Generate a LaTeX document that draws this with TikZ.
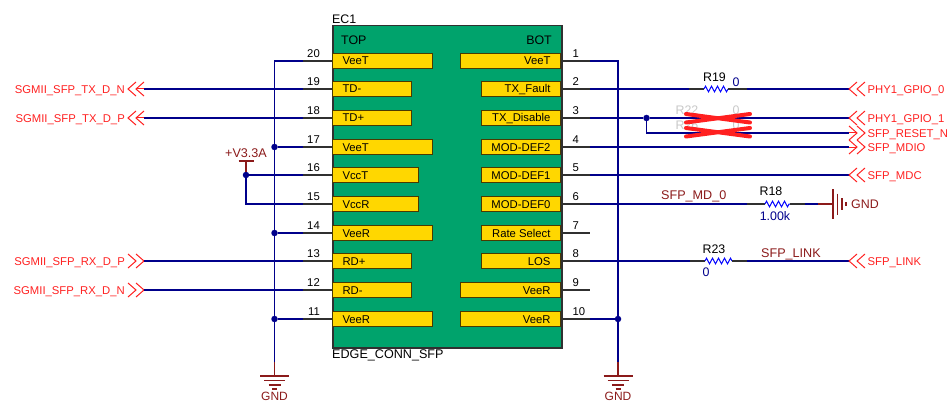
\documentclass[tikz,border=0pt]{standalone}
\usepackage{fontspec}
\setmainfont{Liberation Sans}
\usetikzlibrary{decorations.pathmorphing}
\definecolor{boardgreen}{HTML}{00A36C}
\definecolor{padyellow}{HTML}{FFD700}
\definecolor{padedge}{HTML}{4A3A00}
\definecolor{wireblue}{HTML}{00008B}
\definecolor{pwrred}{HTML}{8B1A1A}
\definecolor{labelred}{HTML}{FF2020}
\definecolor{stubgrey}{HTML}{303030}
\definecolor{ghost}{HTML}{C8C8C8}
\newcommand{\fs}[1]{\fontsize{#1}{#1}\selectfont}
\tikzset{
  x=1pt,y=-1pt,
  wire/.style={wireblue,line width=1.4pt},
  stub/.style={stubgrey,line width=1.3pt},
  pwr/.style={pwrred,line width=1.2pt},
  chev/.style={labelred,line width=1pt},
  resz/.style={blue,line width=1pt,decorate,decoration={zigzag,segment length=6pt,amplitude=2.8pt}},
  dot/.style={circle,fill=wireblue,inner sep=0pt,minimum size=6.5pt},
  txt/.style={inner sep=0pt,font=\fs{11.3}},
  big/.style={inner sep=0pt,font=\fs{12.4}},
  netl/.style={inner sep=0pt,font=\fs{11.3},text=labelred,text height=8.1pt,text depth=0pt},
  padL/.style={draw=padedge,fill=padyellow,line width=1pt,anchor=west,minimum height=14.5pt,inner ysep=0pt,inner xsep=0pt,align=flush left,font=\fs{11.3},text height=9pt,text depth=1pt},
  padR/.style={draw=padedge,fill=padyellow,line width=1pt,anchor=east,minimum height=14.5pt,inner ysep=0pt,inner xsep=0pt,align=flush right,font=\fs{11.3},text height=9pt,text depth=1pt},
  chevL/.pic={\draw[chev] (8,-7)--(0,0)--(8,7) (16,-7)--(8,0)--(16,7);},
  chevR/.pic={\draw[chev] (-16,-7)--(-8,0)--(-16,7) (-8,-7)--(0,0)--(-8,7);},
}
\begin{document}
\begin{tikzpicture}
\useasboundingbox (0,0) rectangle (950,401);
% board
\node[draw=stubgrey,fill=boardgreen,line width=1.5pt,inner sep=0pt,minimum width=229pt,minimum height=322pt,anchor=north west] (board) at (332,25) {};
\node[big,anchor=south west] (ec) at (332,24) {EC1};
\node[big,font=\fs{12.6},anchor=north west] (edge) at (332,349) {EDGE\_CONN\_SFP};
\node[big,anchor=west] (top) at (341,40) {TOP};
\node[big,anchor=east] (bot) at (552,40) {BOT};
% left pins: number/y/width/name
\foreach \n/\y/\w/\t in {20/61/100/VeeT,19/89/79/TD-,18/118/79/TD+,17/147/100/VeeT,16/175/86/VccT,15/204/86/VccR,14/233/100/VeeR,13/261/79/RD+,12/290/79/RD-,11/319/100/VeeR}{
  \node[padL,text width=\w pt] (p\n) at (332,\y) {\hspace*{10pt}\t};
  \coordinate (s\n) at (303,\y);
  \draw[stub] (p\n.west) -- (s\n);
  \node[txt,anchor=east] (num\n) at (320,\y-7) {\n};
}
% right pins
\foreach \n/\y/\w/\t in {1/61/100/VeeT,2/89/79/TX\_Fault,3/118/79/TX\_Disable,4/147/79/MOD-DEF2,5/175/79/MOD-DEF1,6/204/79/MOD-DEF0,7/233/79/Rate Select,8/261/79/LOS,9/290/100/VeeR,10/319/100/VeeR}{
  \node[padR,text width=\w pt] (p\n) at (561,\y) {\mbox{\t\hspace{10pt}}};
  \coordinate (s\n) at (590,\y);
  \draw[stub] (p\n.east) -- (s\n);
  \node[txt,anchor=west] (num\n) at (572.5,\y-7) {\n};
}
% left buses
\coordinate (busLg) at (274.5,362);
\coordinate (gndL) at (274.5,376);
\node[dot] (j17) at (274.5,147) {};
\node[dot] (j14) at (274.5,233) {};
\node[dot] (j11) at (274.5,319) {};
\draw[wire] (s20) -| (busLg);
\draw[wire] (s17) -- (j17);
\draw[wire] (s14) -- (j14);
\draw[wire] (s11) -- (j11);
\draw[pwr] (busLg) -- (gndL);
\draw[pwr] (260,376)--(289,376) (264,380.5)--(285,380.5) (268.5,385)--(280.5,385) (272,389)--(277,389);
\node[txt,text=pwrred,font=\fs{12}] (gl) at (274.5,396) {GND};
% right bus
\coordinate (busRg) at (618,362);
\coordinate (gndR) at (618,376);
\node[dot] (j10) at (618,319) {};
\draw[wire] (s1) -| (busRg);
\draw[wire] (s10) -- (j10);
\draw[pwr] (busRg) -- (gndR);
\draw[pwr] (603.5,376)--(632.5,376) (607.5,380.5)--(628.5,380.5) (612,385)--(624,385) (615.5,389)--(620.5,389);
\node[txt,text=pwrred,font=\fs{12}] (gr) at (618,396) {GND};
% +V3.3A
\node[dot] (jv) at (246,175) {};
\coordinate (vt) at (246,161);
\coordinate (vb) at (246,204);
\draw[wire] (s16) -- (jv);
\draw[wire] (jv) -- (vb) -- (s15);
\draw[pwr] (jv) -- (vt);
\draw[pwr,line width=1.2pt] (238.5,161)--(253.5,161);
\node[big,text=pwrred,font=\fs{12.6}] (v33) at (246,153.5) {+V3.3A};
% left off-page nets
\node[netl,anchor=east] (txn) at (125,89.5) {SGMII\_SFP\_TX\_D\_N};
\node[netl,anchor=east] (txp) at (125,118) {SGMII\_SFP\_TX\_D\_P};
\node[netl,anchor=east] (rxp) at (125,261.5) {SGMII\_SFP\_RX\_D\_P};
\node[netl,anchor=east] (rxn) at (125,290) {SGMII\_SFP\_RX\_D\_N};
\pic at (128,89) {chevL};
\pic at (128,118) {chevL};
\pic at (144,261) {chevR};
\pic at (144,290) {chevR};
\coordinate (ctxn) at (144,89);
\coordinate (ctxp) at (144,118);
\coordinate (crxp) at (144,261);
\coordinate (crxn) at (144,290);
\draw[wire] (ctxn) -- (s19);
\draw[wire] (ctxp) -- (s18);
\draw[wire] (crxp) -- (s13);
\draw[wire] (crxn) -- (s12);
\draw[chev] (ctxn) -- ++(-8,0);
\draw[chev] (ctxp) -- ++(-8,0);
% right off-page nets
\node[netl,anchor=west] (g0) at (867.5,89.5) {PHY1\_GPIO\_0};
\node[netl,anchor=west] (g1) at (867.5,118) {PHY1\_GPIO\_1};
\node[netl,anchor=west] (rst) at (867.5,133) {SFP\_RESET\_N};
\node[netl,anchor=west] (mdio) at (867.5,147) {SFP\_MDIO};
\node[netl,anchor=west] (mdc) at (867.5,175.5) {SFP\_MDC};
\node[netl,anchor=west] (lnk) at (867.5,261.5) {SFP\_LINK};
\coordinate (cg0) at (849,89);
\coordinate (cg1) at (849,118);
\coordinate (crst) at (849,133);
\coordinate (cmdio) at (849,147);
\coordinate (cmdc) at (849,175);
\coordinate (clnk) at (849,261);
% R19
\coordinate (r19a) at (689,89); \coordinate (r19b) at (704,89);
\coordinate (r19c) at (728,89); \coordinate (r19d) at (747,89);
\draw[wire] (s2) -- (r19a);
\draw[stub] (r19a) -- (r19b);
\draw[resz] (r19b) -- (r19c);
\draw[stub] (r19c) -- (r19d);
\draw[wire] (r19d) -- (cg0);
\node[big] (r19t) at (714.5,77) {R19};
\node[big,text=wireblue] (r19v) at (736,82) {0};
% gpio1 / reset
\node[dot] (j3) at (646.5,118) {};
\draw[wire] (s3) -- (j3) -- (cg1);
\draw[wire] (j3) |- (crst);
\draw[wire] (s4) -- (cmdio);
\draw[wire] (s5) -- (cmdc);
\draw[chev] (crst) -- ++(8,0);
\draw[chev] (cmdio) -- ++(8,0);
\node[big,text=ghost] (r22) at (687,110) {R22};
\node[big,text=ghost] (r22v) at (736,110) {0};
\node[big,text=ghost] (r26) at (687,125) {R26};
\node[big,text=ghost] (r26v) at (736,125) {0};
\draw[labelred,line width=4pt,line cap=round] (686,114)--(750,122.5) (686,122.5)--(750,114) (686,128)--(750,136.5) (686,136.5)--(750,128);
% R18
\coordinate (r18a) at (747,204); \coordinate (r18b) at (765,204);
\coordinate (r18c) at (790,204); \coordinate (r18d) at (805,204);
\coordinate (gndS) at (818,204); \coordinate (gndB) at (833,204);
\draw[wire] (s6) -- (r18a);
\draw[stub] (r18a) -- (r18b);
\draw[resz] (r18b) -- (r18c);
\draw[stub] (r18c) -- (r18d);
\draw[wire] (r18d) -- (gndS);
\draw[pwr] (gndS) -- (gndB);
\draw[pwr,line width=1.3pt] (833,189)--(833,219) (837.5,193.5)--(837.5,214.5) (842,198)--(842,210) (846,202)--(846,206);
\node[big,text=pwrred,anchor=west] (g3) at (851,204) {GND};
\node[big,text=pwrred,font=\fs{12.6},anchor=west] (md0) at (661,196) {SFP\_MD\_0};
\node[big] (r18t) at (771,191) {R18};
\node[big,text=wireblue] (r18v) at (775,216) {1.00k};
% R23
\coordinate (r23a) at (690,261); \coordinate (r23b) at (705,261);
\coordinate (r23c) at (732,261); \coordinate (r23d) at (747,261);
\draw[wire] (s8) -- (r23a);
\draw[stub] (r23a) -- (r23b);
\draw[resz] (r23b) -- (r23c);
\draw[stub] (r23c) -- (r23d);
\draw[wire] (r23d) -- (clnk);
\node[big] (r23t) at (714,249.5) {R23};
\node[big,text=wireblue] (r23v) at (706,272) {0};
\node[big,text=pwrred,font=\fs{12.6},anchor=west] (lnkn) at (761,254) {SFP\_LINK};
% chevrons
\pic at (849,89) {chevL};
\pic at (849,118) {chevL};
\pic at (849,175) {chevL};
\pic at (849,261) {chevL};
\pic at (865,133) {chevR};
\pic at (865,147) {chevR};
\end{tikzpicture}
\end{document}
